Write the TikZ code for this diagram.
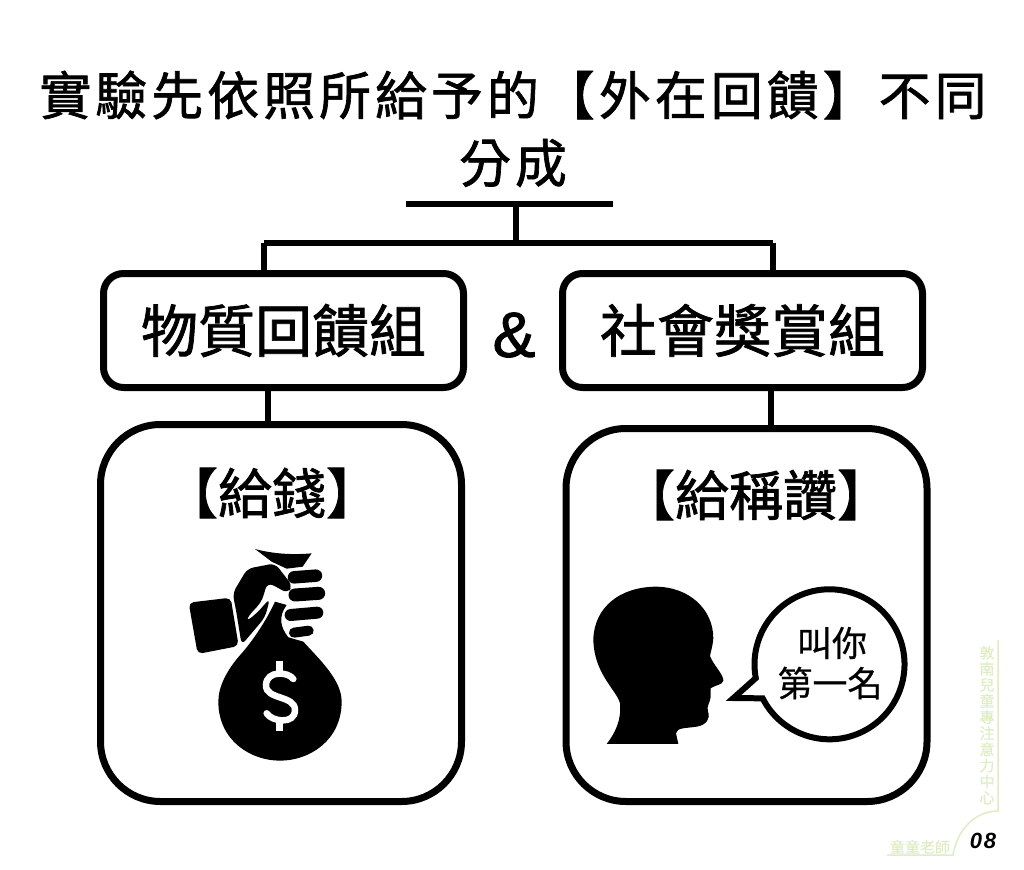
\documentclass[tikz,border=0pt]{standalone}
\usepackage{fontspec}
\usetikzlibrary{calc}
\setmainfont{Noto Sans CJK TC}[FakeBold=1.3]
\newfontfamily\plaincjk{Noto Sans CJK TC}[FakeBold=0.7]
\newfontfamily\palecjk{Noto Sans CJK TC}[FakeBold=0.4]
\newfontfamily\numfont{Liberation Sans}[FakeBold=1.5]
\newfontfamily\pgfont{Liberation Sans}[LetterSpace=8]
\definecolor{palegreen}{HTML}{DFEDC4}
\tikzset{
  x=1pt,y=-1pt,
  line/.style={draw=black,line width=6pt},
  groupbox/.style={draw=black,line width=7pt,rounded corners=20pt,minimum width=360pt,minimum height=114pt,inner sep=0pt,font=\fontsize{57}{60}\selectfont},
  bigbox/.style={draw=black,line width=7pt,rounded corners=60pt,minimum width=361pt,inner sep=0pt},
  heading/.style={inner sep=0pt,font=\fontsize{54}{60}\selectfont},
  titletext/.style={inner sep=0pt,font=\fontsize{52}{60}\selectfont},
  speech/.style={inner sep=0pt,font=\fontsize{35}{40}\plaincjk\selectfont},
  pale/.style={inner sep=0pt,text=palegreen},
  paleline/.style={draw=palegreen,line width=1.5pt},
}
\begin{document}
\begin{tikzpicture}
\useasboundingbox (0,0) rectangle (1024,869);
\fill[white] (0,0) rectangle (1024,869);

% title
\node[titletext] (title1) at (513,95) {\addfontfeature{LetterSpace=7.6}實驗先依照所給予的【外在回饋】不同};
\node[titletext] (title2) at (513,163) {\addfontfeature{LetterSpace=7.6}分成};

% tree
\coordinate (barL) at (406,204);
\coordinate (barR) at (613,204);
\coordinate (barC) at (516,204);
\coordinate (jC) at (516,243);
\coordinate (jL) at (264,243);
\coordinate (jR) at (773,243);
\node[groupbox] (g1) at (283.5,330.5) {物質回饋組};
\node[groupbox] (g2) at (742.5,330.5) {社會獎賞組};
\node[inner sep=0pt,font=\fontsize{64}{66}\numfont\selectfont] (amp) at (514,335) {\&};
\node[bigbox,minimum height=377pt] (b1) at (281,613) {};
\node[bigbox,minimum height=373pt] (b2) at (746.5,615) {};
\draw[line] (barL) -- (barR);
\draw[line] (barC) -- (jC);
\draw[line] (jL) -- (jR);
\draw[line] (jL) -- (jL |- g1.north);
\draw[line] (jR) -- (jR |- g2.north);
\coordinate (sL) at (268,388);
\coordinate (sR) at (771,388);
\draw[line] (sL) -- (sL |- b1.north);
\draw[line] (sR) -- (sR |- b2.north);

\node[heading] (h1) at (272,493) {【給錢】};
\node[heading] (h2) at (756,495) {【給稱讚】};

% money bag and hand
\begin{scope}[shift={(160,530)},x=0.3333pt,y=-0.3333pt]
  % bag
  \fill[black] (345,215) .. controls (320,270) and (280,330) .. (245,370)
    .. controls (200,420) and (175,470) .. (175,515)
    .. controls (175,630) and (270,692) .. (360,692)
    .. controls (450,692) and (545,630) .. (545,515)
    .. controls (545,450) and (480,390) .. (430,335)
    -- (385,322) .. controls (360,290) and (355,260) .. (380,225) -- cycle;
  % tie
  \fill[black] (285,57) .. controls (340,72) and (400,75) .. (455,70)
    -- (428,110) -- (380,116) -- (335,95) -- cycle;
  % cuff
  \fill[black,rounded corners=5pt] (86,218) -- (212,203) -- (236,348) -- (113,372) -- cycle;
  % hand
  \fill[black,rounded corners=6pt] (218,190) -- (262,116) -- (345,100) -- (398,168) -- (382,190) -- (352,172) -- (322,158) -- (305,215) -- (262,262) -- (258,275) -- (290,250) -- (330,205) -- (315,262) -- (245,345) -- (228,240) -- cycle;
  % fingers
  \draw[black,line width=12.5pt,line cap=round] (402,142) -- (468,137);
  \draw[black,line width=13pt,line cap=round] (405,195) -- (476,190);
  \draw[black,line width=12pt,line cap=round] (392,255) -- (472,248);
  \draw[black,line width=10pt,line cap=round] (402,308) -- (446,302);
  % dollar
  \draw[white,line width=6.5pt,line cap=round] (400,447)
    .. controls (385,425) and (320,420) .. (318,465)
    .. controls (316,510) and (405,495) .. (405,540)
    .. controls (405,585) and (335,575) .. (320,550);
  \draw[white,line width=7pt] (360,392) -- (360,425);
  \draw[white,line width=7pt] (360,570) -- (360,602);
\end{scope}

% head
\begin{scope}[shift={(580,570)},x=0.3333pt,y=-0.3333pt]
  \fill[black] (80,522) .. controls (105,490) and (125,450) .. (120,400)
    .. controls (110,360) and (40,310) .. (40,205)
    .. controls (45,110) and (120,52) .. (225,50)
    .. controls (330,50) and (400,120) .. (400,205)
    .. controls (398,230) and (392,245) .. (390,258)
    .. controls (400,285) and (432,315) .. (430,332)
    .. controls (428,345) and (405,345) .. (392,355)
    -- (392,380) .. controls (392,395) and (378,410) .. (384,425)
    .. controls (392,445) and (380,465) .. (350,470)
    .. controls (320,475) and (290,472) .. (288,490)
    -- (295,522) -- cycle;
\end{scope}

% bubble
\coordinate (bc) at (829.5,664.3);
\draw[black,line width=6pt,miter limit=10,fill=white]
  ($(bc)+(153:75)$) arc[start angle=153,end angle=-190.6,radius=75]
  -- (733.5,698) -- cycle;
\node[speech] (s1) at (832,643) {叫你};
\node[speech] (s2) at (830,683) {第一名};

% footer
\coordinate (vT) at (998,640);
\coordinate (vB) at (998,811);
\coordinate (hE) at (887,855);
\coordinate (hC) at (953,855);
\node[pale,align=center,font=\fontsize{15}{16.1}\palecjk\selectfont] (vtext) at (987,725) {敦\\南\\兒\\童\\專\\注\\意\\力\\中\\心};
\node[pale,font=\fontsize{15}{16}\palecjk\selectfont] (bname) at (920,847) {童童老師};
\draw[paleline] (vT) -- (vB) .. controls (975,811) and (957,830) .. (hC) -- (hE);
\node[inner sep=0pt,font=\fontsize{22}{24}\pgfont\bfseries\itshape\selectfont] (pg) at (983,841) {08};
\end{tikzpicture}
\end{document}
